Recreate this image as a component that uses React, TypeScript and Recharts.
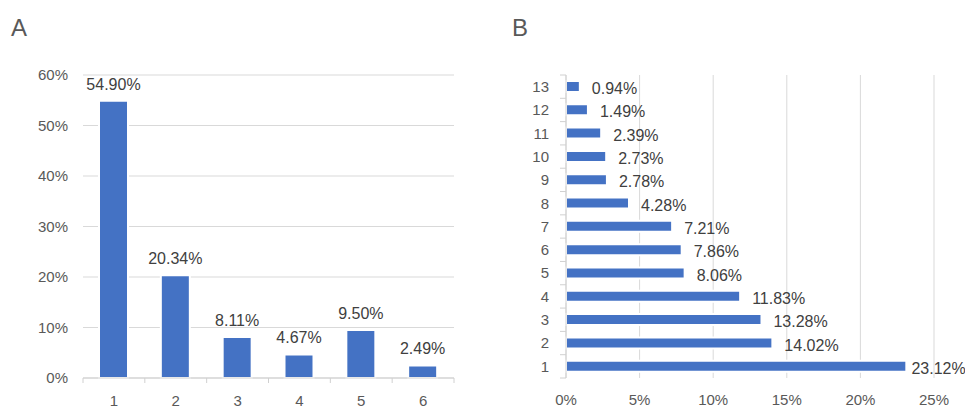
import React from 'react';
import { BarChart, Bar, XAxis, YAxis, CartesianGrid, LabelList } from 'recharts';

// panel A
const groupsA = ['1', '2', '3', '4', '5', '6'];
const sharesA = [54.9, 20.34, 8.11, 4.67, 9.5, 2.49];
const ticksA = [0, 10, 20, 30, 40, 50, 60];

// panel B
const groupsB = ['1', '2', '3', '4', '5', '6', '7', '8', '9', '10', '11', '12', '13'];
const sharesB = [23.12, 14.02, 13.28, 11.83, 8.06, 7.86, 7.21, 4.28, 2.78, 2.73, 2.39, 1.49, 0.94];
const ticksB = [0, 5, 10, 15, 20, 25];

const BLUE = '#4472C4';
const GRID = '#d9d9d9';
const AXIS = '#d0d0d0';
const TICK_TEXT = '#595959';
const LABEL_TEXT = '#404040';
const FONT = '"Liberation Sans", Arial, Helvetica, sans-serif';

const dataA = groupsA.map((g, i) => ({ group: g, share: sharesA[i] }));
const dataB = groupsB.map((g, i) => ({ group: g, share: sharesB[i] }));

const pct = (v: number) => `${v}%`;
const pct2 = (v: number) => `${Number(v).toFixed(2)}%`;

const WIDTH_B = 485;

// x ticks of A: small marks sit between the categories, not under them
const X_GAP = 17;
const BoundaryTickX = (props: any) => {
  const { x, y, payload, index } = props;
  const half = payload.offset != null ? payload.offset : (454 - 83) / groupsA.length / 2;
  const axisY = y - X_GAP;
  const last = index === groupsA.length - 1;
  return (
    <g>
      <line x1={x - half} x2={x - half} y1={axisY} y2={axisY + 5} stroke={AXIS} />
      {last && <line x1={x + half} x2={x + half} y1={axisY} y2={axisY + 5} stroke={AXIS} />}
      <text x={x} y={y} dy="0.71em" textAnchor="middle" fill={TICK_TEXT} fontSize={15} fontFamily={FONT}>
        {payload.value}
      </text>
    </g>
  );
};

// y ticks of B, same idea
const Y_GAP = 17;
const BoundaryTickY = (props: any) => {
  const { x, y, payload, index } = props;
  const half = payload.offset != null ? payload.offset : (378 - 75) / groupsB.length / 2;
  const axisX = x + Y_GAP;
  return (
    <g>
      <line x1={axisX - 6} x2={axisX} y1={y - half} y2={y - half} stroke={AXIS} />
      {index === 0 && <line x1={axisX - 6} x2={axisX} y1={y + half} y2={y + half} stroke={AXIS} />}
      <text x={x} y={y} dy="0.355em" textAnchor="end" fill={TICK_TEXT} fontSize={15} fontFamily={FONT}>
        {payload.value}
      </text>
    </g>
  );
};

// value labels right of the B bars; pulled back in when they would run off the edge
const RightLabel = (props: any) => {
  const { x, y, width, height, value } = props;
  const text = pct2(value);
  const approx = text.length * 8.6;
  const lx = Math.min(x + width + 12, WIDTH_B - approx - 2);
  return (
    <text
      x={lx}
      y={y + height / 2 + 2}
      dy="0.355em"
      textAnchor="start"
      fill={LABEL_TEXT}
      fontSize={16}
      fontFamily={FONT}
    >
      {text}
    </text>
  );
};

const titleStyle: React.CSSProperties = {
  position: 'absolute',
  top: 14,
  fontFamily: FONT,
  fontSize: 24,
  color: TICK_TEXT,
};

export default function App() {
  return (
    <div style={{ position: 'absolute', left: 0, top: 0, width: 965, height: 408, background: '#fff' }}>
      <style>{'.recharts-surface { overflow: visible; }'}</style>
      <div style={{ ...titleStyle, left: 11 }}>A</div>
      <div style={{ ...titleStyle, left: 512 }}>B</div>

      <div style={{ position: 'absolute', left: 0, top: 0 }}>
        <BarChart width={480} height={408} data={dataA} margin={{ top: 75, right: 26, bottom: 0, left: 0 }}>
          <CartesianGrid vertical={false} stroke={GRID} />
          <XAxis
            dataKey="group"
            height={30}
            stroke={AXIS}
            tickLine={false}
            tickSize={6}
            tickMargin={X_GAP - 6}
            tick={<BoundaryTickX />}
          />
          <YAxis
            width={83}
            domain={[0, 60]}
            ticks={ticksA}
            tickFormatter={pct}
            axisLine={false}
            tickLine={false}
            tickMargin={9}
            tick={{ fill: TICK_TEXT, fontSize: 15, fontFamily: FONT }}
          />
          <Bar dataKey="share" fill={BLUE} stroke="#fff" strokeWidth={2} barSize={29} isAnimationActive={false}>
            <LabelList
              dataKey="share"
              position="top"
              offset={11}
              formatter={pct2}
              fill={LABEL_TEXT}
              fontSize={16}
              fontFamily={FONT}
            />
          </Bar>
        </BarChart>
      </div>

      <div style={{ position: 'absolute', left: 480, top: 0 }}>
        <BarChart
          width={WIDTH_B}
          height={408}
          data={dataB}
          layout="vertical"
          margin={{ top: 75, right: 31, bottom: 0, left: 0 }}
        >
          <CartesianGrid horizontal={false} stroke={GRID} />
          <XAxis
            type="number"
            domain={[0, 25]}
            ticks={ticksB}
            tickFormatter={pct}
            height={30}
            axisLine={false}
            tickLine={false}
            tickMargin={10}
            tick={{ fill: TICK_TEXT, fontSize: 15, fontFamily: FONT }}
          />
          <YAxis
            type="category"
            dataKey="group"
            reversed
            width={86}
            stroke={AXIS}
            tickLine={false}
            tickSize={6}
            tickMargin={Y_GAP - 6}
            tick={<BoundaryTickY />}
          />
          <Bar dataKey="share" fill={BLUE} stroke="#fff" strokeWidth={2} barSize={11} isAnimationActive={false}>
            <LabelList dataKey="share" content={<RightLabel />} />
          </Bar>
        </BarChart>
      </div>
    </div>
  );
}
